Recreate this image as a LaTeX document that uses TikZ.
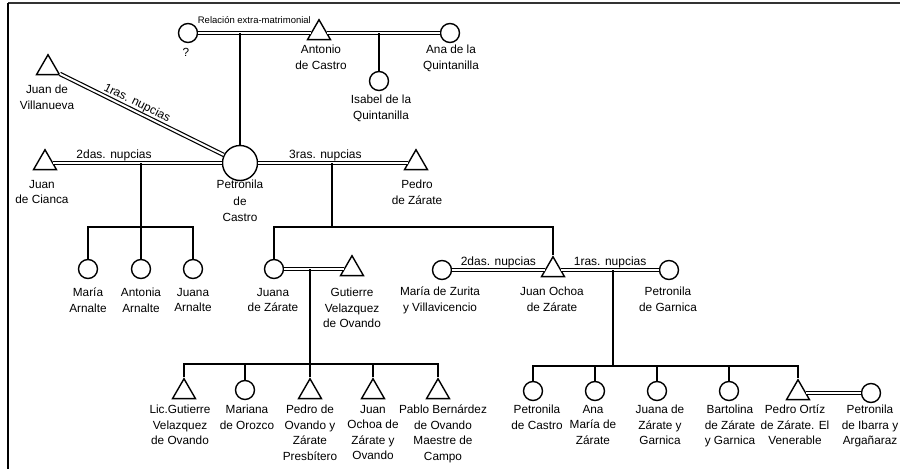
\documentclass[tikz,border=0pt]{standalone}
\usepackage{fontspec}
\setmainfont{Liberation Sans}
\usetikzlibrary{shapes.geometric}
\begin{document}
\begin{tikzpicture}[x=1pt,y=-1pt,
  fem/.style={circle,draw,line width=1.4pt,minimum size=19pt,inner sep=0pt},
  mal/.style={regular polygon,regular polygon sides=3,draw,line width=1.4pt,minimum size=26.5pt,inner sep=0pt},
  lbl/.style={anchor=north,align=center,inner sep=0pt,font=\fontsize{11.8}{15.5}\selectfont},
  desc/.style={line width=1.8pt},
  marr/.style={double,double distance=2pt,line width=1.2pt},
  rel/.style={font=\fontsize{12}{14}\selectfont,inner sep=1.5pt},
  relsmall/.style={font=\fontsize{9.5}{11}\selectfont,inner sep=0pt}
]
\useasboundingbox (0,0) rectangle (900,469);
% frame
\draw[line width=1.5pt,black!80] (900,3) -- (8,3);
\draw[line width=1.8pt] (8,3) -- (8,469);

% generation 1
\node[fem] (q) at (188,33) {};
\node[mal] (antonio) at (319,33) {};
\node[fem] (ana) at (450,33) {};
\node[fem] (isabel) at (379,81) {};
\node[mal] (villa) at (48,68) {};
\node[mal] (cianca) at (45,163) {};
\node[fem,minimum size=35pt] (petro) at (240,163) {};
\node[mal] (pedro) at (416,163) {};

% generation 2
\node[fem] (mariaA) at (88,269) {};
\node[fem] (antoniaA) at (141,269) {};
\node[fem] (juanaA) at (193,269) {};
\node[fem] (juanaZ) at (274,269) {};
\node[mal] (gutierre) at (352,269) {};
\node[fem] (zurita) at (442,270) {};
\node[mal] (ochoa) at (553,270) {};
\node[fem] (garnica) at (669,270) {};

% generation 3
\node[mal] (g1) at (184,392) {};
\node[fem] (g2) at (245,390) {};
\node[mal] (g3) at (310,392) {};
\node[mal] (g4) at (373,392) {};
\node[mal] (g5) at (438,392) {};
\node[fem] (o1) at (533,391) {};
\node[fem] (o2) at (595,391) {};
\node[fem] (o3) at (657,391) {};
\node[fem] (o4) at (729,391) {};
\node[mal] (o5) at (798,393) {};
\node[fem] (ibarra) at (871,393) {};

\coordinate (barA) at (141,227);
\coordinate (barB) at (332,227);
\coordinate (barC) at (310,364);
\coordinate (barD) at (613,366);

% connectors
\draw[marr] (q) -- node[relsmall,midway,above=9pt] {Relación extra-matrimonial} (antonio);
\draw[desc] (petro |- q) -- (petro);
\draw[marr] (antonio) -- (ana);
\draw[desc] (isabel |- ana) -- (isabel);
\draw[marr] (villa) -- node[rel,sloped,above,pos=0.45] {1ras. nupcias} (petro);
\draw[marr] (cianca) -- node[rel,above,pos=0.36] {2das. nupcias} (petro);
\draw[desc] (antoniaA |- petro) -- (antoniaA);
\draw[desc] (mariaA) |- (barA) -| (juanaA);
\draw[marr] (petro) -- node[rel,above,pos=0.45] {3ras. nupcias} (pedro);
\draw[desc] (barB |- petro) -- (barB);
\draw[desc] (juanaZ) |- (barB) -| (ochoa);
\draw[marr] (juanaZ) -- (gutierre);
\draw[desc] (barC |- juanaZ) -- (barC);
\draw[desc] (g1) |- (barC) -| (g5);
\draw[desc] (g2) -- (g2 |- barC);
\draw[desc] (g3) -- (g3 |- barC);
\draw[desc] (g4) -- (g4 |- barC);
\draw[marr] (zurita) -- node[rel,above] {2das. nupcias} (ochoa);
\draw[marr] (ochoa) -- node[rel,above] {1ras. nupcias} (garnica);
\draw[desc] (barD |- ochoa) -- (barD);
\draw[desc] (o1) |- (barD) -| (o5);
\draw[desc] (o2) -- (o2 |- barD);
\draw[desc] (o3) -- (o3 |- barD);
\draw[desc] (o4) -- (o4 |- barD);
\draw[marr] (o5) -- (ibarra);

% labels
\node[lbl] (Lq) at (186,48) {?};
\node[lbl] (Lantonio) at (321,45) {Antonio\\de Castro};
\node[lbl] (Lana) at (451,45) {Ana de la\\Quintanilla};
\node[lbl] (Lisabel) at (381,95) {Isabel de la\\Quintanilla};
\node[lbl] (Lvilla) at (47,85) {Juan de\\Villanueva};
\node[lbl] (Lcianca) at (42,180) {Juan\\de Cianca};
\node[lbl,font=\fontsize{11.8}{16.5}\selectfont] (Lpetro) at (240,180) {Petronila\\de\\Castro};
\node[lbl] (Lpedro) at (417,180) {Pedro\\de Zárate};
\node[lbl] (LmariaA) at (88,288) {María\\Arnalte};
\node[lbl] (LantoniaA) at (141,288) {Antonia\\Arnalte};
\node[lbl] (LjuanaA) at (193,288) {Juana\\Arnalte};
\node[lbl] (LjuanaZ) at (273,288) {Juana\\de Zárate};
\node[lbl] (Lgutierre) at (352,288) {Gutierre\\Velazquez\\de Ovando};
\node[lbl] (Lzurita) at (440,287) {María de Zurita\\y Villavicencio};
\node[lbl] (Lochoa) at (552,287) {Juan Ochoa\\de Zárate};
\node[lbl] (Lgarnica) at (668,287) {Petronila\\de Garnica};
\node[lbl] (Lg1) at (180,405) {Lic.Gutierre\\Velazquez\\de Ovando};
\node[lbl] (Lg2) at (247,405) {Mariana\\de Orozco};
\node[lbl] (Lg3) at (310,405) {Pedro de\\Ovando y\\Zárate\\Presbítero};
\node[lbl] (Lg4) at (373,405) {Juan\\Ochoa de\\Zárate y\\Ovando};
\node[lbl] (Lg5) at (443,405) {Pablo Bernárdez\\de Ovando\\Maestre de\\Campo};
\node[lbl] (Lo1) at (537,405) {Petronila\\de Castro};
\node[lbl] (Lo2) at (593,405) {Ana\\María de\\Zárate};
\node[lbl] (Lo3) at (660,405) {Juana de\\Zárate y\\Garnica};
\node[lbl] (Lo4) at (730,405) {Bartolina\\de Zárate\\y Garnica};
\node[lbl] (Lo5) at (795,405) {Pedro Ortíz\\de Zárate. El\\Venerable};
\node[lbl] (Lo6) at (870,405) {Petronila\\de Ibarra y\\Argañaraz};
\end{tikzpicture}
\end{document}
